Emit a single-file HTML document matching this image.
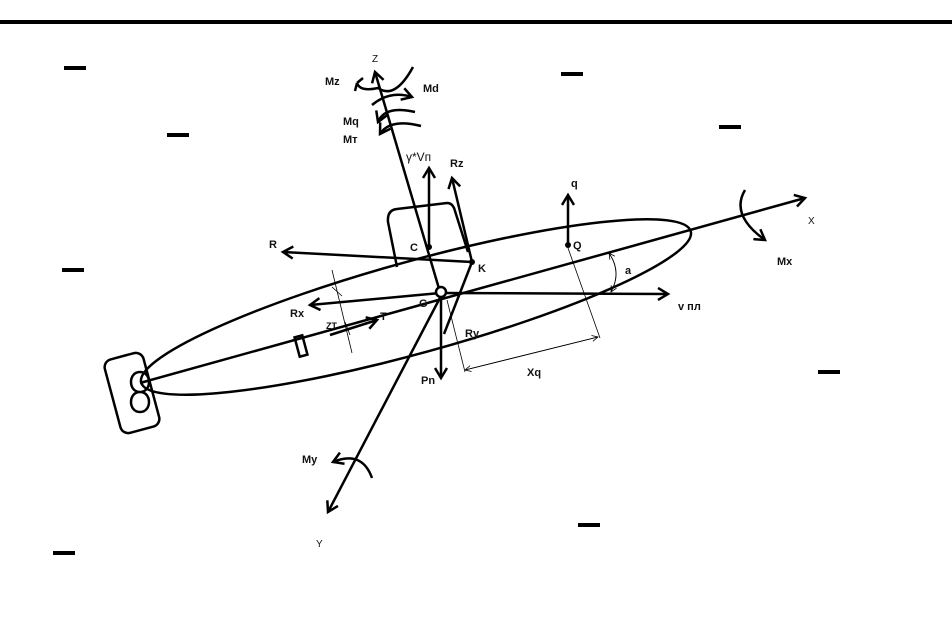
<!DOCTYPE html>
<html><head><style>
html,body{margin:0;padding:0;background:#fff;}
svg{display:block;}
text{font-family:"Liberation Sans",sans-serif;font-size:11px;font-weight:bold;fill:#111;}
</style></head><body>
<svg width="952" height="632" viewBox="0 0 952 632" xmlns="http://www.w3.org/2000/svg">
<defs>
<marker id="ah" markerWidth="14" markerHeight="14" refX="11" refY="7" orient="auto" markerUnits="userSpaceOnUse">
<path d="M1,1 L11,7 L1,13" fill="none" stroke="#000" stroke-width="2.5"/></marker>
<marker id="sh" markerWidth="8" markerHeight="8" refX="7" refY="4" orient="auto" markerUnits="userSpaceOnUse">
<path d="M1,1 L7,4 L1,7" fill="none" stroke="#000" stroke-width="0.8"/></marker>
</defs>
<rect x="0" y="20" width="952" height="4" fill="#000"/>
<g stroke="#000" stroke-width="4">
<line x1="64" y1="68" x2="86" y2="68"/><line x1="167" y1="135" x2="189" y2="135"/>
<line x1="561" y1="74" x2="583" y2="74"/><line x1="719" y1="127" x2="741" y2="127"/>
<line x1="62" y1="270" x2="84" y2="270"/><line x1="818" y1="372" x2="840" y2="372"/>
<line x1="578" y1="525" x2="600" y2="525"/><line x1="53" y1="553" x2="75" y2="553"/>
</g>
<g fill="none" stroke="#000" stroke-width="2.5">
<ellipse cx="416" cy="307" rx="285" ry="46" transform="rotate(-15.4 416 307)"/>
<line x1="140" y1="383" x2="805" y2="198" marker-end="url(#ah)"/>
<line x1="440" y1="292" x2="375" y2="72" marker-end="url(#ah)"/>
<line x1="442" y1="294" x2="328" y2="512" marker-end="url(#ah)"/>
<path d="M397,267 L388,222 Q387,210 397,209 L447,203 Q453,203 455,211 L468,252"/>
<line x1="429" y1="247" x2="429" y2="168" marker-end="url(#ah)"/>
<line x1="472" y1="262" x2="452" y2="178" marker-end="url(#ah)"/>
<line x1="472" y1="262" x2="283" y2="252" marker-end="url(#ah)"/>
<line x1="472" y1="262" x2="444" y2="334"/>
<line x1="441" y1="294" x2="441" y2="378" marker-end="url(#ah)"/>
<line x1="441" y1="293" x2="668" y2="294" marker-end="url(#ah)"/>
<line x1="568" y1="245" x2="568" y2="195" marker-end="url(#ah)"/>
<line x1="440" y1="293" x2="310" y2="305" marker-end="url(#ah)"/>
<line x1="330" y1="335" x2="377" y2="320" marker-end="url(#ah)"/>
<rect x="297" y="336" width="8" height="20" transform="rotate(-15 301 346)"/>
<rect x="112" y="355" width="40" height="76" rx="8" transform="rotate(-15 132 393)"/>
<path d="M140,372 C128,372 128,392 140,392 C152,392 152,412 140,412 C128,412 128,392 140,392 C152,392 152,372 140,372"/>
<path d="M745,190 Q730,215 765,240" marker-end="url(#ah)"/>
<path d="M372,478 Q362,450 333,462" marker-end="url(#ah)"/>
<path d="M413,67 Q395,100 378,88 Q360,92 357,83" />
<path d="M357,83 L355,91 M357,83 L363,78"/>
<path d="M372,105 Q390,90 412,97" marker-end="url(#ah)"/>
<path d="M415,112 Q385,105 378,122" marker-end="url(#ah)"/>
<path d="M421,126 Q390,118 380,134" marker-end="url(#ah)"/>
</g>
<g fill="#000"><circle cx="429" cy="247" r="3"/><circle cx="568" cy="245" r="3"/><circle cx="472" cy="262" r="3"/></g>
<circle cx="441" cy="292" r="5" fill="#fff" stroke="#000" stroke-width="2.5"/>
<g fill="none" stroke="#000" stroke-width="0.8">
<line x1="332" y1="270" x2="352" y2="353"/>
<line x1="332" y1="287" x2="342" y2="296" /><line x1="350" y1="335" x2="345" y2="322"/>
<line x1="568" y1="248" x2="600" y2="338"/>
<line x1="447" y1="300" x2="465" y2="372"/>
<line x1="465" y1="370" x2="598" y2="337" marker-end="url(#sh)"/>
<line x1="598" y1="337" x2="465" y2="370" marker-end="url(#sh)"/>
<path d="M609,253 Q622,272 611,292" marker-end="url(#sh)"/>
<path d="M611,292 Q622,272 609,253" marker-end="url(#sh)"/>
</g>
<text x="372" y="62" style="font-weight:normal;font-size:10px">Z</text>
<text x="325" y="85">Mz</text><text x="423" y="92">Md</text>
<text x="343" y="125">Mq</text><text x="343" y="143">Mт</text>
<text x="406" y="161" style="font-weight:normal;font-size:12px">γ*Vп</text>
<text x="450" y="167">Rz</text><text x="571" y="187">q</text>
<text x="808" y="224" style="font-weight:normal;font-size:10px">X</text>
<text x="777" y="265">Mx</text><text x="269" y="248">R</text>
<text x="410" y="251">C</text><text x="573" y="249">Q</text><text x="478" y="272">K</text>
<text x="419" y="307">G</text><text x="290" y="317">Rx</text>
<text x="326" y="329" style="font-size:9px">ZT</text><text x="380" y="320">T</text>
<text x="465" y="337">Ry</text><text x="421" y="384">Pn</text><text x="527" y="376">Xq</text>
<text x="625" y="274">a</text><text x="678" y="310">v пл</text>
<text x="302" y="463">My</text>
<text x="316" y="547" style="font-weight:normal;font-size:10px">Y</text>
</svg>
</body></html>
